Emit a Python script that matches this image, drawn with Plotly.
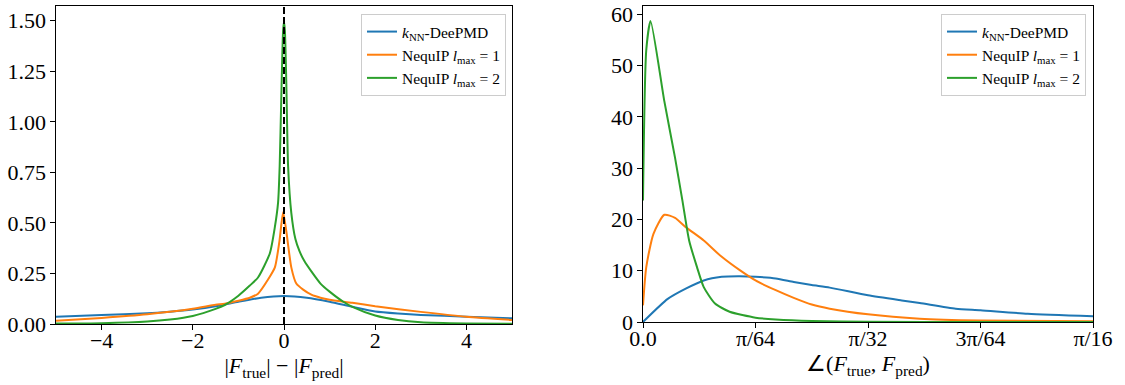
import plotly.graph_objects as go
import math

# ---- Left panel: |F_true| - |F_pred| densities ----
knn_x = [-5, -4, -3, -2.5, -2, -1.5, -1, -0.5, 0, 0.5, 1, 1.5, 2, 2.5, 3, 4, 5]
knn_y = [0.036, 0.045, 0.053, 0.061, 0.072, 0.088, 0.11, 0.13, 0.138, 0.13, 0.11, 0.085, 0.062, 0.052, 0.045, 0.036, 0.028]

l1_x = [-5, -4, -3, -2, -1.5, -1.3, -1, -0.75, -0.57, -0.35, -0.2, -0.1, -0.02,
        0.05, 0.16, 0.27, 0.42, 0.6, 0.8, 1, 1.5, 2, 3, 4, 5]
l1_y = [0.016, 0.03, 0.048, 0.075, 0.095, 0.10, 0.115, 0.13, 0.15, 0.22, 0.28, 0.41, 0.553,
        0.46, 0.28, 0.2, 0.17, 0.145, 0.13, 0.12, 0.105, 0.088, 0.06, 0.036, 0.02]

l2_x = [-5, -4, -3, -2.5, -2, -1.5, -1.3, -1, -0.75, -0.57, -0.31, -0.2, -0.13, -0.095, -0.06, -0.02, 0,
        0.02, 0.05, 0.09, 0.16, 0.25, 0.34, 0.45, 0.6, 0.8, 1, 1.3, 1.5, 2, 2.5, 3, 4, 5]
l2_y = [0.002, 0.004, 0.012, 0.022, 0.04, 0.075, 0.094, 0.14, 0.19, 0.23, 0.35, 0.48, 0.6, 0.78, 1.11, 1.45, 1.495,
        1.45, 1.2, 0.78, 0.55, 0.42, 0.36, 0.31, 0.26, 0.2, 0.16, 0.11, 0.085, 0.042, 0.02, 0.009, 0.003, 0.001]

# ---- Right panel: angle densities (x in units of pi/64) ----
knn_a = [0, 0.22, 0.38, 0.54, 0.70, 0.86, 1.0, 1.18, 1.34, 1.5, 1.66, 2.0, 2.3, 2.46, 2.78, 3.0, 3.42, 4.0]
knn_d = [0, 4.5, 6.5, 8.1, 8.8, 8.9, 8.8, 8.5, 7.8, 7.2, 6.7, 5.2, 4.2, 3.7, 2.6, 2.3, 1.6, 1.1]

l1_a = [0, 0.029, 0.093, 0.19, 0.285, 0.38, 0.54, 0.70, 0.86, 1.0, 1.18, 1.34, 1.5, 1.66, 2.0, 2.46, 3.0, 4.0]
l1_d = [3.25, 10.7, 17.2, 20.9, 20.3, 18.5, 15.9, 12.7, 10.1, 8.1, 6.2, 4.7, 3.4, 2.6, 1.5, 0.65, 0.3, 0.13]

l2_a = [0, 0.029, 0.067, 0.19, 0.285, 0.35, 0.41, 0.48, 0.54, 0.64, 0.77, 1.0, 1.18, 1.5, 2.0, 3.0, 4.0]
l2_d = [23.7, 53, 58.7, 43, 32, 23.7, 15.9, 10.7, 6.8, 3.6, 2.0, 0.85, 0.5, 0.2, 0.05, 0.01, 0.0]

names = ["<i>k</i><sub>NN</sub>-DeePMD",
         "NequIP <i>l</i><sub>max</sub> = 1",
         "NequIP <i>l</i><sub>max</sub> = 2"]
colors = ["#1f77b4", "#ff7f0e", "#2ca02c"]

right_ticks = [0, 1, 2, 3, 4]
right_ticktext = ["0.0", "π/64", "π/32", "3π/64", "π/16"]

u = math.pi / 64

fig = go.Figure()
for xs, ys, n, c in zip([knn_x, l1_x, l2_x], [knn_y, l1_y, l2_y], names, colors):
    fig.add_trace(go.Scatter(x=xs, y=ys, name=n, mode="lines",
                             line=dict(color=c, width=2, shape="spline", smoothing=0.6),
                             xaxis="x", yaxis="y", legend="legend"))
for xs, ys, n, c in zip([knn_a, l1_a, l2_a], [knn_d, l1_d, l2_d], names, colors):
    fig.add_trace(go.Scatter(x=[a * u for a in xs], y=ys, name=n, mode="lines",
                             line=dict(color=c, width=2, shape="spline", smoothing=0.6),
                             xaxis="x2", yaxis="y2", legend="legend2"))

font = "Liberation Serif"
W, H = 1125, 385
axis_common = dict(showline=True, linecolor="black", linewidth=1.2, mirror=True,
                   ticks="outside", ticklen=4.5, tickwidth=1, tickcolor="black",
                   showgrid=False, zeroline=False, automargin=False,
                   tickfont=dict(family=font, size=22, color="black"))

fig.add_shape(type="line", x0=0, x1=0, y0=0, y1=1, xref="x", yref="y domain",
              line=dict(color="black", width=2, dash="7px,3px"))

fig.update_layout(
    template="none",
    width=W, height=H, margin=dict(l=0, r=0, t=0, b=0, autoexpand=False),
    paper_bgcolor="white", plot_bgcolor="white",
    font=dict(family=font, color="black"),
    xaxis=dict(domain=[56 / W, 512 / W], range=[-5, 5], tickvals=[-4, -2, 0, 2, 4],
               ticklabelstandoff=-8,
               title=dict(text="|<i>F</i><sub>true</sub>| − |<i>F</i><sub>pred</sub>|",
                          font=dict(family=font, size=22), standoff=4),
               anchor="y", **axis_common),
    yaxis=dict(domain=[61 / H, 379 / H], range=[0, 1.573], tickvals=[0, 0.25, 0.5, 0.75, 1.0, 1.25, 1.5],
               tickformat=".2f", anchor="x", **axis_common),
    xaxis2=dict(domain=[643 / W, 1093 / W], range=[0, 4 * u],
                tickvals=[t * u for t in right_ticks], ticktext=right_ticktext,
                ticklabelstandoff=-8,
                title=dict(text="∠(<i>F</i><sub>true</sub>, <i>F</i><sub>pred</sub>)",
                           font=dict(family=font, size=22), standoff=4),
                anchor="y2", **axis_common),
    yaxis2=dict(domain=[63 / H, 379 / H], range=[0, 61.6], tickvals=[0, 10, 20, 30, 40, 50, 60],
                anchor="x2", **axis_common),
    legend=dict(x=506 / W, xanchor="right", y=1 - 14 / H, yanchor="top",
                bgcolor="rgba(255,255,255,0.8)", bordercolor="#cccccc", borderwidth=1,
                font=dict(family=font, size=15.5), tracegroupgap=0),
    legend2=dict(x=1086 / W, xanchor="right", y=1 - 14 / H, yanchor="top",
                 bgcolor="rgba(255,255,255,0.8)", bordercolor="#cccccc", borderwidth=1,
                 font=dict(family=font, size=15.5), tracegroupgap=0),
)

fig.write_html("out.html")
